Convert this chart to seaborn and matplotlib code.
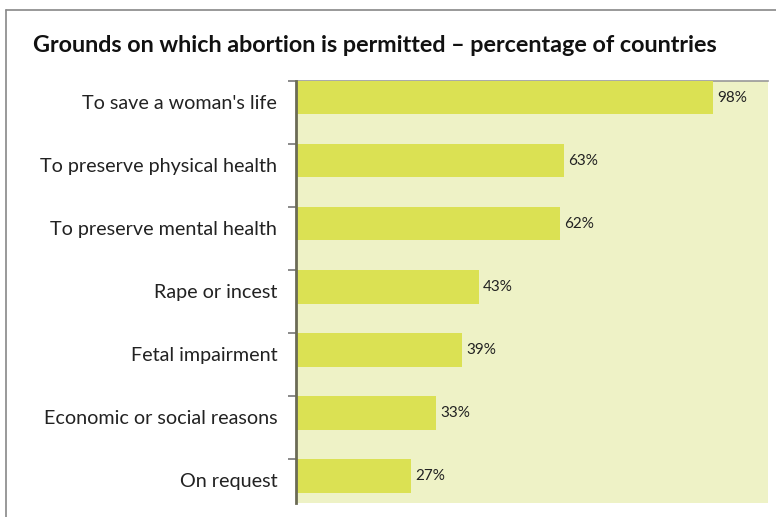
import matplotlib
matplotlib.use("Agg")
import matplotlib.pyplot as plt
import matplotlib.transforms as mtransforms
import seaborn as sns
import pandas as pd
import numpy as np
from matplotlib.lines import Line2D
from matplotlib.ticker import FixedLocator

categories = ["To save a woman's life", "To preserve physical health",
              "To preserve mental health", "Rape or incest", "Fetal impairment",
              "Economic or social reasons", "On request"]
values = [98, 63, 62, 43, 39, 33, 27]
value_labels = ["98%", "63%", "62%", "43%", "39%", "33%", "27%"]

df = pd.DataFrame({"ground": categories, "pct": values})

sns.set_theme(style="white")
plt.rcParams['font.family'] = ['Lato', 'DejaVu Sans']

W, H = 776, 517
fig = plt.figure(figsize=(W / 100, H / 100), dpi=100)
ax = fig.add_axes([296 / W, 1 - 503 / H, (768 - 296) / W, (503 - 81) / H])

bar_color = "#DBE153"
bg_color = "#EEF2C6"
ax.set_facecolor(bg_color)

sns.barplot(data=df, x="pct", y="ground", orient="h", color=bar_color,
            saturation=1, width=0.53, ax=ax, zorder=3, edgecolor="none", linewidth=0)

ax.set_xlim(0, 111)
ax.set_ylim(6.43, -0.265)
ax.set_xlabel("")
ax.set_ylabel("")
ax.set_xticks([])

ax.tick_params(axis="y", which="major", left=False, length=0, pad=13.5,
               labelsize=14.2, labelcolor="#222222")
ax.yaxis.set_minor_locator(FixedLocator([i - 0.265 for i in range(len(categories))]))
ax.tick_params(axis="y", which="minor", left=True, length=6, width=1.2,
               color="#777777", direction="out")

offset = mtransforms.ScaledTranslation(0, -3 / 72, fig.dpi_scale_trans)
for lab in ax.get_yticklabels():
    lab.set_transform(lab.get_transform() + offset)

for s in ["right", "bottom"]:
    ax.spines[s].set_visible(False)
ax.spines["top"].set_color("#999999")
ax.spines["top"].set_linewidth(1.2)
ax.spines["top"].set_zorder(1)
ax.spines["left"].set_color("#6b6b55")
ax.spines["left"].set_linewidth(2)
ax.spines["left"].set_zorder(5)

for i, (v, lab) in enumerate(zip(values, value_labels)):
    ax.annotate(lab, xy=(v, i), xytext=(3, 0), textcoords="offset points",
                va="center", ha="left", fontsize=11, color="#222222", zorder=6)

fig.text(33 / W, 1 - 46 / H, "Grounds on which abortion is permitted \u2013 percentage of countries",
         fontsize=16.8, fontweight="bold", color="#111111", va="center", ha="left")

# figure frame (left and top edges)
fig.add_artist(Line2D([6 / W, 6 / W], [0, 1 - 10 / H], transform=fig.transFigure,
                      color="#888888", linewidth=1.2))
fig.add_artist(Line2D([6 / W, 1], [1 - 10 / H, 1 - 10 / H], transform=fig.transFigure,
                      color="#888888", linewidth=1.2))

fig.savefig("out.png", dpi=100)
